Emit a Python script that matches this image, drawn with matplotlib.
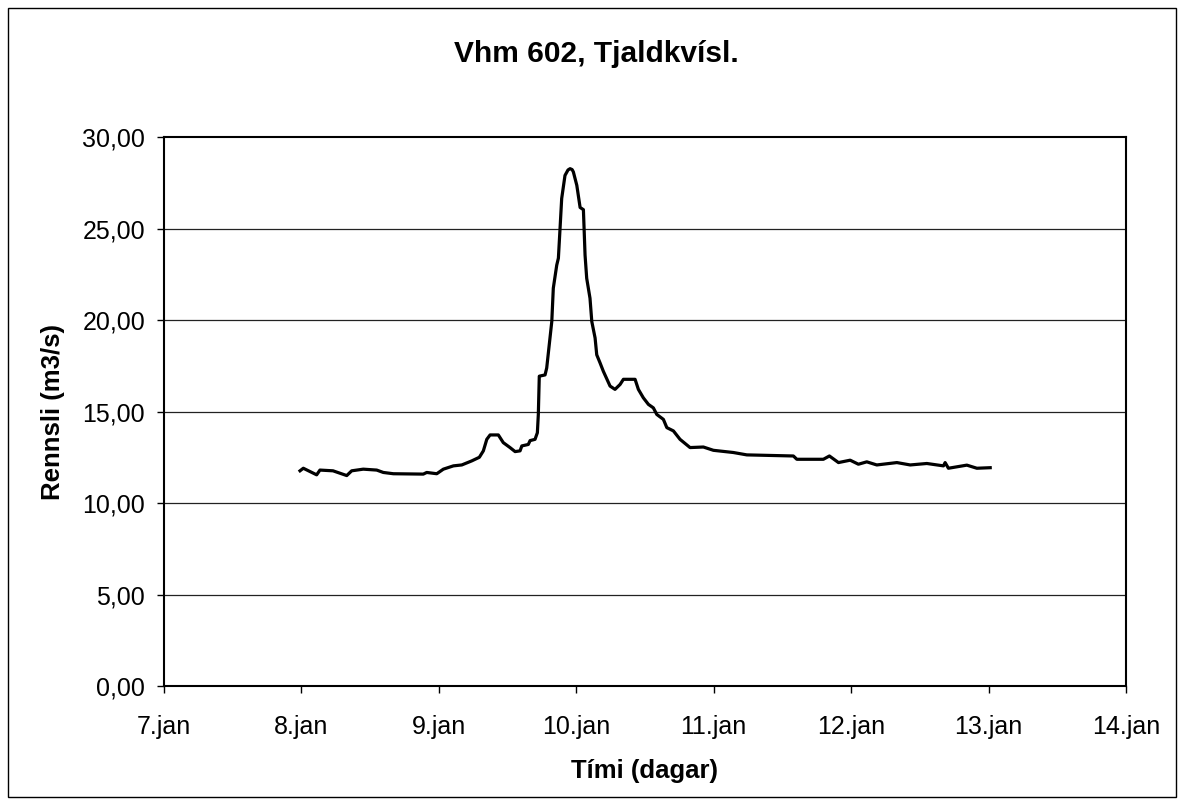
import matplotlib
matplotlib.use("Agg")
import matplotlib.pyplot as plt
from matplotlib.patches import Rectangle

# ── data (day of January, discharge m3/s) ─────────────────────────────────────
day = [7.990, 8.014, 8.111, 8.135, 8.230, 8.330, 8.366, 8.450, 8.548, 8.596,
       8.669, 8.887, 8.912, 8.985, 9.033, 9.106, 9.167, 9.239, 9.295, 9.324,
       9.349, 9.373, 9.433, 9.469, 9.518, 9.555, 9.591, 9.604, 9.651, 9.664,
       9.700, 9.717, 9.724, 9.731, 9.773, 9.785, 9.822, 9.833, 9.858, 9.870,
       9.882, 9.894, 9.918, 9.940, 9.955, 9.970, 9.979, 10.004, 10.028, 10.052,
       10.064, 10.076, 10.100, 10.113, 10.137, 10.149, 10.173, 10.197, 10.246, 10.282,
       10.319, 10.343, 10.428, 10.452, 10.488, 10.525, 10.561, 10.586, 10.634, 10.659,
       10.707, 10.755, 10.828, 10.925, 10.998, 11.143, 11.241, 11.580, 11.605, 11.798,
       11.842, 11.908, 11.993, 12.053, 12.114, 12.187, 12.333, 12.430, 12.551, 12.672,
       12.684, 12.708, 12.842, 12.915, 13.012]
flow = [11.76, 11.90, 11.54, 11.80, 11.76, 11.50, 11.76, 11.85, 11.80, 11.67,
        11.60, 11.58, 11.67, 11.60, 11.85, 12.03, 12.08, 12.30, 12.50, 12.85,
        13.48, 13.72, 13.72, 13.30, 13.03, 12.81, 12.85, 13.12, 13.20, 13.41,
        13.48, 13.84, 14.84, 16.93, 17.00, 17.38, 19.92, 21.74, 23.00, 23.38,
        25.00, 26.64, 27.90, 28.20, 28.27, 28.22, 28.09, 27.36, 26.15, 26.03,
        23.55, 22.28, 21.19, 19.92, 19.02, 18.10, 17.66, 17.20, 16.39, 16.21,
        16.48, 16.76, 16.76, 16.21, 15.75, 15.39, 15.20, 14.84, 14.57, 14.12,
        13.94, 13.48, 13.03, 13.06, 12.88, 12.76, 12.63, 12.57, 12.39, 12.39,
        12.57, 12.21, 12.34, 12.12, 12.25, 12.08, 12.21, 12.08, 12.16, 12.03,
        12.21, 11.90, 12.07, 11.90, 11.93]

x_ticks  = [7, 8, 9, 10, 11, 12, 13, 14]
x_labels = ["7.jan", "8.jan", "9.jan", "10.jan", "11.jan", "12.jan", "13.jan", "14.jan"]
y_ticks  = [0, 5, 10, 15, 20, 25, 30]
y_labels = ["0,00", "5,00", "10,00", "15,00", "20,00", "25,00", "30,00"]

# ── plot ──────────────────────────────────────────────────────────────────────
plt.rcParams["font.family"] = ["Liberation Sans", "DejaVu Sans"]

fig = plt.figure(figsize=(11.83, 8.05), dpi=100)
ax = fig.add_axes([0.1386, 0.1478, 0.8132, 0.6820])

ax.plot(day, flow, color="black", linewidth=2.3, solid_joinstyle="round")

ax.set_xlim(7, 14)
ax.set_ylim(0, 30)
ax.set_xticks(x_ticks)
ax.set_xticklabels(x_labels)
ax.set_yticks(y_ticks)
ax.set_yticklabels(y_labels)
ax.tick_params(direction="out", length=5, width=1, labelsize=18, colors="black", pad=8.5)
ax.tick_params(axis="x", pad=16)

for yv in y_ticks[1:-1]:
    ax.axhline(yv, color="#222222", linewidth=0.9, zorder=0)
for s in ax.spines.values():
    s.set_linewidth(1.5)
    s.set_color("black")

ax.set_xlabel("Tími (dagar)", fontsize=18.5, fontweight="bold", labelpad=14)
ax.set_ylabel("Rennsli (m3/s)", fontsize=18.5, fontweight="bold", labelpad=12.5)
fig.text(596 / 1183, 1 - 62 / 805, "Vhm 602, Tjaldkvísl.", ha="center", va="baseline",
         fontsize=21.5, fontweight="bold")

# outer chart frame
fig.patches.append(Rectangle((8 / 1183, 8 / 805), 1168 / 1183, 789 / 805,
                             transform=fig.transFigure, fill=False,
                             edgecolor="black", linewidth=1.0))

fig.savefig("out.png", dpi=100)
